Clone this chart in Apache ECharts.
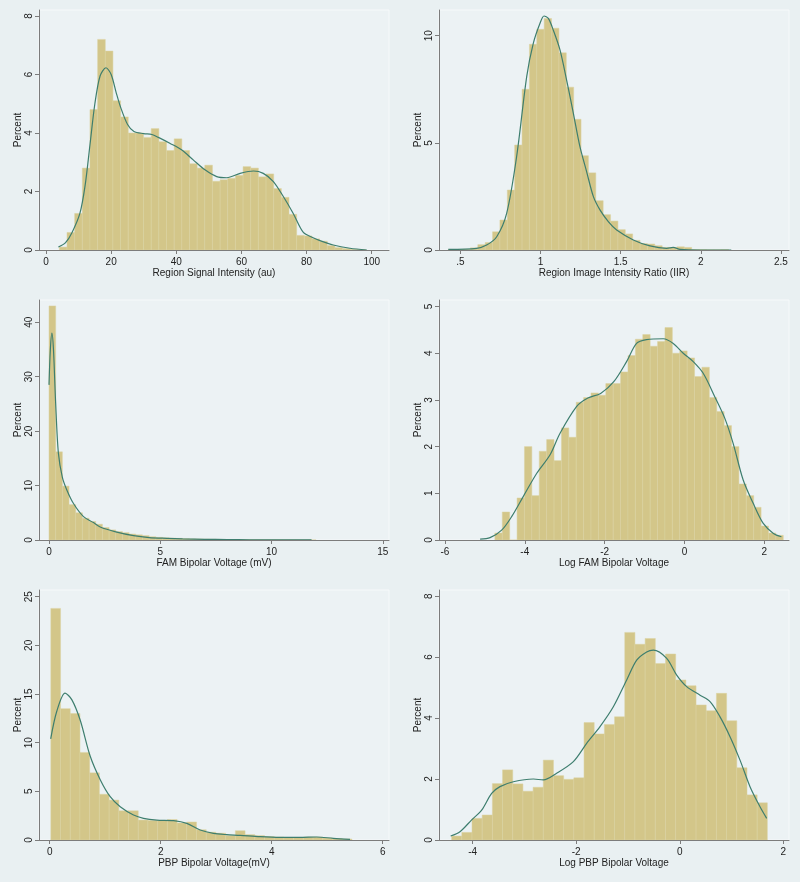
<!DOCTYPE html>
<html>
<head>
<meta charset="utf-8">
<script src="https://cdn.jsdelivr.net/npm/echarts@6/dist/echarts.min.js"></script>
<style>
  html, body { margin: 0; padding: 0; background: #E9F0F2; }
  #chart { width: 800px; height: 882px; }
</style>
</head>
<body>
<div id="chart"></div>
<script>
// ---------------- DATA ----------------
const yTitle = "Percent";
const xTitles = [
  "Region Signal Intensity (au)",
  "Region Image Intensity Ratio (IIR)",
  "FAM Bipolar Voltage (mV)",
  "Log FAM Bipolar Voltage",
  "PBP Bipolar Voltage(mV)",
  "Log PBP Bipolar Voltage"
];

// Panel 1: Region Signal Intensity
const p1Start = 4.1, p1Width = 2.35;
const p1Bars = [0.1,0.6,1.25,2.8,4.8,7.2,6.8,5.1,4.55,4.0,4.0,3.85,4.15,3.7,3.4,3.8,3.4,2.95,2.8,2.9,2.35,2.4,2.45,2.55,2.85,2.8,2.5,2.6,2.1,1.8,1.22,0.5,0.48,0.38,0.3,0.15,0.08,0.05,0.02,0.01];
const p1CurveX = [3.8,6,8,10.4,12,13.5,15,16.6,18.4,20,21.5,23,25,27,30,32.5,34.5,38,41.7,45.2,48.8,52.4,55.5,59.6,63.7,66.7,69.8,72.9,75.9,79,82,84.1,88.2,93.3,98.5];
const p1CurveY = [0.1,0.25,0.6,1.25,2.2,3.6,5.0,5.95,6.23,6.0,5.4,4.85,4.3,4.05,3.98,3.95,3.85,3.65,3.42,3.08,2.74,2.51,2.47,2.62,2.70,2.62,2.34,1.82,1.25,0.6,0.42,0.32,0.17,0.06,0.0];
const p1XTicks = [0,20,40,60,80,100];
const p1YTicks = [0,2,4,6,8];

// Panel 2: Region Image Intensity Ratio
const p2Start = 0.425, p2Width = 0.046;
const p2Bars = [0.02,0.02,0.03,0.1,0.25,0.35,0.85,1.4,2.8,4.9,7.5,9.6,10.3,10.8,10.35,9.2,7.6,6.1,4.4,3.6,2.3,1.65,1.35,0.95,0.75,0.45,0.3,0.28,0.2,0.12,0.1,0.15,0.12,0.02,0.02,0.01,0.01,0.02];
const p2CurveX = [0.425,0.602,0.664,0.727,0.789,0.851,0.914,0.955,0.997,1.022,1.049,1.080,1.122,1.163,1.205,1.246,1.288,1.330,1.371,1.423,1.475,1.579,1.683,1.787,1.828,1.870,1.995,2.19];
const p2CurveY = [0.03,0.08,0.23,0.62,1.71,4.35,8.09,9.64,10.58,10.92,10.81,10.26,9.33,7.93,6.38,4.82,3.65,2.49,1.87,1.32,0.93,0.47,0.19,0.08,0.12,0.03,0.0,0.0];
const p2XTicks = [0.5,1,1.5,2,2.5];
const p2YTicks = [0,5,10];

// Panel 3: FAM Bipolar Voltage
const p3Start = 0, p3Width = 0.3;
const p3Bars = [43,16.2,9.9,6.5,5.0,4.0,3.4,2.9,2.3,1.85,1.55,1.35,1.1,0.95,0.8,0.6,0.48,0.4,0.35,0.3,0.25,0.2,0.18,0.15,0.13,0.1,0.08,0.07,0.06,0.05,0.04,0.04,0.03,0.03,0.02,0.02,0.02,0.01,0.01,0.01];
const p3CurveX = [0,0.06,0.13,0.2,0.3,0.42,0.6,0.8,1.1,1.55,2,2.3,3,3.8,4.5,5.3,6,7,8,9,10,11,11.8];
const p3CurveY = [28.5,35,38,35,25,16,11.5,9.2,6.7,4.3,3.2,2.4,1.5,0.8,0.45,0.3,0.2,0.13,0.08,0.05,0.03,0.02,0.01];
const p3XTicks = [0,5,10,15];
const p3YTicks = [0,10,20,30,40];

// Panel 4: Log FAM Bipolar Voltage
const p4Start = -4.75, p4Width = 0.1853;
const p4Bars = [0.15,0.6,0,0.9,2.0,0.95,1.9,2.15,1.7,2.4,2.2,2.95,3.05,3.15,3.1,3.35,3.35,3.6,3.95,4.3,4.4,4.15,4.25,4.55,4.0,4.05,3.9,3.5,3.7,3.05,2.75,2.45,2.0,1.2,0.95,0.7,0.3,0.15,0.1];
const p4CurveX = [-5.12,-4.87,-4.58,-4.33,-4.04,-3.70,-3.37,-3.12,-2.70,-2.42,-2.10,-1.77,-1.45,-1.20,-0.95,-0.53,-0.28,-0.03,0.22,0.47,0.76,1.01,1.22,1.47,1.72,1.97,2.23,2.43];
const p4CurveY = [0.02,0.05,0.21,0.5,0.93,1.43,1.82,2.28,2.86,3.04,3.14,3.39,3.82,4.21,4.29,4.31,4.21,4.0,3.82,3.57,3.07,2.61,2.07,1.29,0.79,0.36,0.14,0.07];
const p4XTicks = [-6,-4,-2,0,2];
const p4YTicks = [0,1,2,3,4,5];

// Panel 5: PBP Bipolar Voltage
const p5Start = 0.02, p5Width = 0.175;
const p5Bars = [23.8,13.5,13.0,9.0,6.9,4.7,4.1,3.0,3.0,2.05,2.0,2.0,2.1,1.75,1.85,1.05,0.8,0.7,0.45,0.95,0.55,0.45,0.35,0.3,0.25,0.25,0.3,0.3,0.2,0.15,0.1];
const p5CurveX = [0.018,0.126,0.276,0.40,0.55,0.73,0.91,1.09,1.27,1.51,1.69,1.93,2.23,2.47,2.71,2.95,3.19,3.43,3.79,4.15,4.51,4.81,5.11,5.41];
const p5CurveY = [10.4,13.2,15.1,14.4,12.3,8.6,6.2,4.45,3.42,2.57,2.23,2.05,1.99,1.71,1.03,0.68,0.55,0.48,0.34,0.27,0.27,0.31,0.17,0.07];
const p5XTicks = [0,2,4,6];
const p5YTicks = [0,5,10,15,20,25];

// Panel 6: Log PBP Bipolar Voltage
const p6Start = -4.406, p6Width = 0.1967;
const p6Bars = [0.13,0.25,0.71,0.82,1.85,2.3,1.84,1.6,1.73,2.62,2.11,1.99,2.04,3.85,3.48,3.79,4.04,6.81,6.42,6.61,5.79,6.1,5.25,5.06,4.43,4.24,4.81,3.91,2.37,1.48,1.22];
const p6CurveX = [-4.425,-4.245,-4.019,-3.826,-3.633,-3.472,-3.214,-2.828,-2.635,-2.377,-2.055,-1.798,-1.540,-1.283,-1.025,-0.832,-0.639,-0.510,-0.252,-0.059,0.134,0.392,0.585,0.778,0.971,1.164,1.357,1.550,1.679];
const p6CurveY = [0.13,0.27,0.66,0.98,1.53,1.75,1.91,2.0,1.97,2.19,2.57,3.17,3.72,4.37,5.25,5.9,6.17,6.23,5.96,5.41,5.03,4.75,4.54,4.04,3.39,2.62,1.75,1.09,0.71];
const p6XTicks = [-4,-2,0,2];
const p6YTicks = [0,2,4,6,8];

// ---------------- LAYOUT / STYLE ----------------
const panels = [
  {start:p1Start, width:p1Width, bars:p1Bars, cx:p1CurveX, cy:p1CurveY, xt:p1XTicks, yt:p1YTicks,
   grid:{left:39, top:10, width:350, height:240}, xMin:-2.15, xMax:105.3, yMax:8.205},
  {start:p2Start, width:p2Width, bars:p2Bars, cx:p2CurveX, cy:p2CurveY, xt:p2XTicks, yt:p2YTicks,
   grid:{left:439, top:10, width:350, height:240}, xMin:0.367, xMax:2.550, yMax:11.2},
  {start:p3Start, width:p3Width, bars:p3Bars, cx:p3CurveX, cy:p3CurveY, xt:p3XTicks, yt:p3YTicks,
   grid:{left:39, top:300, width:350, height:240}, xMin:-0.45, xMax:15.28, yMax:44.09},
  {start:p4Start, width:p4Width, bars:p4Bars, cx:p4CurveX, cy:p4CurveY, xt:p4XTicks, yt:p4YTicks,
   grid:{left:439, top:300, width:350, height:240}, xMin:-6.15, xMax:2.62, yMax:5.14},
  {start:p5Start, width:p5Width, bars:p5Bars, cx:p5CurveX, cy:p5CurveY, xt:p5XTicks, yt:p5YTicks,
   grid:{left:39, top:590, width:350, height:250}, xMin:-0.193, xMax:6.113, yMax:25.69},
  {start:p6Start, width:p6Width, bars:p6Bars, cx:p6CurveX, cy:p6CurveY, xt:p6XTicks, yt:p6YTicks,
   grid:{left:439, top:590, width:350, height:250}, xMin:-4.65, xMax:2.11, yMax:8.2}
];

const FONT = "Liberation Sans, Arial, Helvetica, sans-serif";
const AXIS_COLOR = "#7c7c7c";
const TEXT_COLOR = "#222222";
const BAR_FILL = "#D3C689";
const BAR_STROKE = "#DBD2A0";
const LINE_COLOR = "#3E7E6E";

function fmt(v) {
  let s = String(v);
  if (s.startsWith("0.")) s = s.slice(1);
  return s;
}

const grids = [], xAxes = [], yAxes = [], series = [];
panels.forEach((p, i) => {
  grids.push(Object.assign({show:true, backgroundColor:"#ECF2F4", borderColor:"#F6F9FA", borderWidth:1}, p.grid));
  xAxes.push({
    type:"value", gridIndex:i, min:p.xMin, max:p.xMax, z:10,
    name: xTitles[i], nameLocation:"middle", nameGap:17,
    nameTextStyle:{fontFamily:FONT, fontSize:10, color:TEXT_COLOR},
    axisLine:{show:true, onZero:false, lineStyle:{color:AXIS_COLOR, width:1}},
    axisTick:{show:true, length:4, customValues:p.xt, lineStyle:{color:AXIS_COLOR}},
    axisLabel:{customValues:p.xt, formatter:fmt, margin:7, fontFamily:FONT, fontSize:10, color:TEXT_COLOR},
    splitLine:{show:false}
  });
  yAxes.push({
    type:"value", gridIndex:i, min:0, max:p.yMax, z:10,
    name: yTitle, nameLocation:"middle", nameGap:16,
    nameTextStyle:{fontFamily:FONT, fontSize:10, color:TEXT_COLOR},
    axisLine:{show:true, onZero:false, lineStyle:{color:AXIS_COLOR, width:1}},
    axisTick:{show:true, length:4, customValues:p.yt, lineStyle:{color:AXIS_COLOR}},
    axisLabel:{customValues:p.yt, rotate:90, margin:5, fontFamily:FONT, fontSize:10, color:TEXT_COLOR},
    splitLine:{show:false}
  });
  const barData = p.bars.map((h, k) => [p.start + k * p.width, p.start + (k + 1) * p.width, h]);
  series.push({
    type:"custom", xAxisIndex:i, yAxisIndex:i, z:2,
    data: barData,
    encode:{x:[0,1], y:2},
    renderItem: function (params, api) {
      const a = api.coord([api.value(0), api.value(2)]);
      const b = api.coord([api.value(1), 0]);
      return {
        type:"rect",
        shape:{x:a[0], y:a[1], width:b[0]-a[0], height:b[1]-a[1]},
        style:{fill:BAR_FILL, stroke:BAR_STROKE, lineWidth:0.5}
      };
    }
  });
  series.push({
    type:"line", xAxisIndex:i, yAxisIndex:i, z:3,
    data: p.cx.map((x, k) => [x, p.cy[k]]),
    smooth:0.3, showSymbol:false, symbol:"none",
    lineStyle:{color:LINE_COLOR, width:1.2}
  });
});

const chart = echarts.init(document.getElementById("chart"), null, {renderer:"canvas"});
chart.setOption({
  animation:false,
  backgroundColor:"#E9F0F2",
  textStyle:{fontFamily:FONT},
  grid:grids, xAxis:xAxes, yAxis:yAxes, series:series
});
</script>
</body>
</html>
